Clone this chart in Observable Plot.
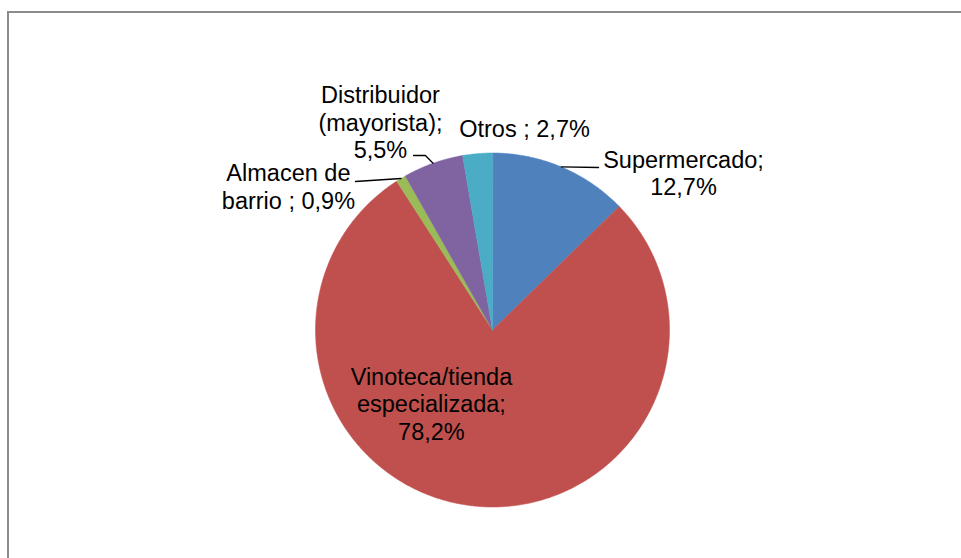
<!DOCTYPE html>
<html><head><meta charset="utf-8">
<script src="https://cdn.jsdelivr.net/npm/d3@7"></script>
<script src="https://cdn.jsdelivr.net/npm/@observablehq/plot@0.6"></script>
<style>
html,body{margin:0;padding:0;background:#fff;overflow:hidden;width:961px;height:558px;}
#frame{position:absolute;left:7px;top:10.5px;width:1000px;height:600px;border:2px solid #8c8c8c;}
#chart{position:absolute;left:0;top:0;}
</style></head><body>
<div id="frame"></div>
<div id="chart"></div>
<script>
// ---- data ----
const categories = ["Supermercado", "Vinoteca/tienda especializada", "Almacen de barrio", "Distribuidor (mayorista)", "Otros"];
const shares = [12.7, 78.2, 0.9, 5.5, 2.7];
const labelTexts = ["Supermercado;\n12,7%", "Vinoteca/tienda\nespecializada;\n78,2%", "Almacen de\nbarrio ; 0,9%", "Distribuidor\n(mayorista);\n5,5%", "Otros ; 2,7%"];

// ---- styling / layout (pie-radius units) ----
const colors = ["#4F81BD", "#C0504D", "#9BBB59", "#8064A2", "#4BACC6"];
const labelX = [1.079, -0.345, -1.153, -0.633, 0.181];
const labelY = [0.760, -0.624, 0.686, 0.969, 1.088];
const leaderEnds = [[[0.599, 0.918]], null, [[-0.774, 0.839]], [[-0.379, 0.986], [-0.446, 0.986]], null];

const cx = 492, cy = 329.5, R = 177;

const total = d3.sum(shares);
let cum = 0;
const slicePts = [];
const leaderPts = [];
categories.forEach((c, i) => {
  const a0 = cum / total * 2 * Math.PI;
  cum += shares[i];
  const a1 = cum / total * 2 * Math.PI;
  slicePts.push({c, x: 0, y: 0});
  const n = Math.max(2, Math.ceil((a1 - a0) / (Math.PI / 360)));
  for (let k = 0; k <= n; k++) {
    const a = a0 + (a1 - a0) * k / n;
    slicePts.push({c, x: Math.sin(a), y: Math.cos(a)});
  }
  if (leaderEnds[i]) {
    const am = (a0 + a1) / 2;
    leaderPts.push({c, x: Math.sin(am), y: Math.cos(am)});
    leaderEnds[i].forEach(([x, y]) => leaderPts.push({c, x, y}));
  }
});
const labels = categories.map((c, i) => ({c, t: labelTexts[i], x: labelX[i], y: labelY[i]}));

const chart = Plot.plot({
  width: 961, height: 558, margin: 0,
  x: {domain: [-1, 1], range: [cx - R, cx + R], axis: null},
  y: {domain: [-1, 1], range: [cy + R, cy - R], axis: null},
  color: {domain: categories, range: colors},
  style: {background: "transparent", fontFamily: "'Liberation Sans', Arial, sans-serif", color: "black"},
  marks: [
    Plot.line(slicePts, {x: "x", y: "y", z: "c", fill: "c", stroke: "c", strokeWidth: 0.5, curve: "linear-closed"}),
    Plot.line(leaderPts, {x: "x", y: "y", z: "c", stroke: "black", strokeWidth: 1.3, curve: "linear"}),
    Plot.text(labels, {x: "x", y: "y", text: "t", fontSize: 23.5, lineHeight: 1.19, lineAnchor: "bottom", textAnchor: "middle", fill: "black"})
  ]
});
document.getElementById("chart").appendChild(chart);
</script>
</body></html>
